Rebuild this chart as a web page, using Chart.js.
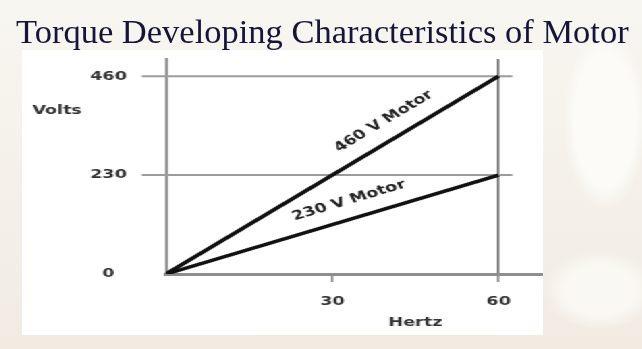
<!DOCTYPE html>
<html>
<head>
<meta charset="utf-8">
<script src="https://cdn.jsdelivr.net/npm/chart.js@4.4.1/dist/chart.umd.min.js"></script>
<style>
  html, body { margin: 0; padding: 0; }
  body {
    width: 642px; height: 349px; overflow: hidden; position: relative;
    background:
      radial-gradient(ellipse 55px 120px at 605px 120px, #fcfbf8 55%, rgba(252,251,248,0) 75%),
      radial-gradient(ellipse 70px 50px at 600px 290px, #faf8f3 50%, rgba(250,248,243,0) 80%),
      linear-gradient(180deg, #f8f6f1 0%, #f1ebe2 100%);
  }
  #scene { position: absolute; left: 0; top: 0; width: 642px; height: 349px; filter: blur(0.5px); }
  #title {
    position: absolute; left: 16px; top: 7px; white-space: nowrap; z-index: 2;
    font-family: "Liberation Serif", "Times New Roman", serif; font-size: 34.5px; line-height: 48px;
    color: #15153a;
  }
  #panel { position: absolute; left: 22px; top: 50px; width: 521px; height: 285px; background: #fff; }
  #wrap { position: absolute; left: 0; top: 0; width: 386px; height: 285px; transform: scaleX(1.3497); transform-origin: 0 0; }
</style>
</head>
<body>
<div id="scene">
  <div id="title">Torque Developing Characteristics of Motor</div>
  <div id="panel"><div id="wrap"><canvas id="motor-chart" width="386" height="285"></canvas></div></div>
</div>
<script>
const hertz = [0, 60];
const volts460 = [0, 460];
const volts230 = [0, 230];
const seriesNames = ["460 V Motor", "230 V Motor"];
const xTicks = [30, 60];
const yTicks = [0, 230, 460];
const xTitle = "Hertz";
const yTitle = "Volts";

const tickFont = { family: "DejaVu Sans", weight: "bold", size: 13 };

// label anchors along each line (data x) and lift above it in px
const labelSpots = [{ at: 39.3, lift: 23 }, { at: 33, lift: 19 }];

const motorPlugin = {
  id: "motorPlugin",
  beforeDatasetsDraw(chart) {
    const { ctx, chartArea, scales: { x, y } } = chart;
    ctx.save();
    ctx.strokeStyle = "#9c9c9c";
    ctx.lineWidth = 2;
    yTicks.filter(v => v > 0).forEach(v => {
      const py = y.getPixelForValue(v);
      ctx.beginPath();
      ctx.moveTo(chartArea.left - 18, py);
      ctx.lineTo(x.getPixelForValue(62.5), py);
      ctx.stroke();
    });
    ctx.restore();
  },
  afterDatasetsDraw(chart) {
    const { ctx, chartArea, scales: { x, y } } = chart;
    ctx.save();
    ctx.fillStyle = "#222";
    ctx.font = "bold 13px 'DejaVu Sans'";
    ctx.textAlign = "center";
    ctx.textBaseline = "middle";
    chart.data.datasets.forEach((ds, i) => {
      const d0 = ds.data[0], d1 = ds.data[ds.data.length - 1];
      const x0 = x.getPixelForValue(d0.x), y0 = y.getPixelForValue(d0.y);
      const x1 = x.getPixelForValue(d1.x), y1 = y.getPixelForValue(d1.y);
      const ang = Math.atan2(y1 - y0, x1 - x0);
      const t = (labelSpots[i].at - d0.x) / (d1.x - d0.x);
      ctx.save();
      ctx.translate(x0 + t * (x1 - x0), y0 + t * (y1 - y0) - labelSpots[i].lift);
      ctx.rotate(ang);
      ctx.fillText(ds.label, 0, 0);
      ctx.restore();
    });
    ctx.fillStyle = "#333";
    ctx.fillText(yTitle, 26, chartArea.top + 52);
    ctx.fillText(xTitle, x.getPixelForValue(45), chartArea.bottom + 49);
    ctx.restore();
  }
};

const data_motor = {
  datasets: [
    {
      label: seriesNames[0],
      data: hertz.map((h, i) => ({ x: h, y: volts460[i] })),
      borderColor: "#111",
      borderWidth: 3.5,
      pointRadius: 0,
    },
    {
      label: seriesNames[1],
      data: hertz.map((h, i) => ({ x: h, y: volts230[i] })),
      borderColor: "#111",
      borderWidth: 3.5,
      pointRadius: 0,
    },
  ],
};

const config_motor = {
  type: "line",
  data: data_motor,
  options: {
    responsive: false,
    animation: false,
    devicePixelRatio: 1,
    layout: { padding: { top: 9, left: 0, right: 0, bottom: 0 } },
    plugins: { legend: { display: false }, tooltip: { enabled: false } },
    scales: {
      x: {
        type: "linear", min: 0, max: 68,
        afterBuildTicks: s => { s.ticks = xTicks.map(v => ({ value: v })); },
        afterFit: s => { s.height = 61; },
        grid: {
          color: c => (c.tick && c.tick.value === 60 ? "#555" : "rgba(0,0,0,0)"),
          lineWidth: 1.5,
          tickColor: "#777",
          tickWidth: 1.5,
          tickLength: 8,
        },
        border: { display: true, color: "#8e8e8e", width: 3 },
        ticks: { padding: 12, font: tickFont, color: "#333", maxRotation: 0 },
      },
      y: {
        min: 0, max: 500,
        afterBuildTicks: s => { s.ticks = yTicks.map(v => ({ value: v })); },
        afterFit: s => { s.width = 106.7; },
        grid: { display: false, drawTicks: true, tickLength: 29 },
        border: { display: true, color: "#8e8e8e", width: 2.2 },
        ticks: { crossAlign: "center", padding: 0, font: tickFont, color: "#333" },
      },
    },
  },
  plugins: [motorPlugin],
};

var ctx_motor = document.getElementById("motor-chart").getContext("2d");
var motorChart = new Chart(ctx_motor, config_motor);
</script>
</body>
</html>
